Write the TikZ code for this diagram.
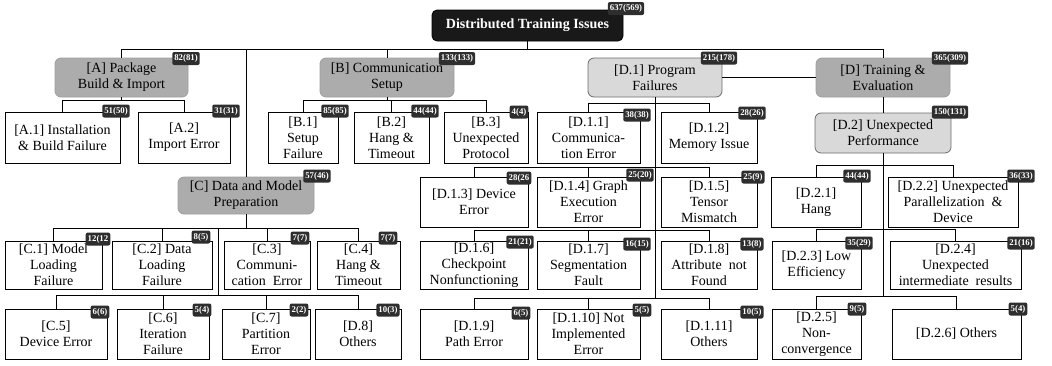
\documentclass[tikz,border=0pt]{standalone}
\usepackage{fontspec}
\setmainfont{Liberation Serif}
\begin{document}
\begin{tikzpicture}[x=1pt,y=-1pt,
  leaf/.style={draw=black, line width=0.8pt, fill=white, align=center, inner sep=0pt, font=\fontsize{14}{16}\selectfont},
  cat/.style={leaf, draw=gray!75, fill=gray!65, rounded corners=6pt},
  subcat/.style={leaf, draw=gray!85!black, fill=gray!30, rounded corners=6pt},
  rootbox/.style={leaf, fill=black!90, draw=black, text=white, rounded corners=5pt, font=\bfseries\fontsize{14}{16}\selectfont},
  badge/.style={fill=black!82, text=white, rounded corners=2pt, inner xsep=2pt, inner ysep=0pt, minimum height=13pt, font=\bfseries\fontsize{8.8}{9}\selectfont},
  link/.style={line width=0.8pt, draw=black}]
\newcommand\bx[7]{\node[#6, minimum width={(#4-#2)*1pt}, minimum height={(#5-#3)*1pt}] (#1) at ({(#2+#4)/2},{(#3+#5)/2}) {#7};}
\useasboundingbox (0,0) rectangle (1052,365);
% boxes
\bx{root}{432}{10}{623}{41}{rootbox}{Distributed Training Issues}
\bx{A}{55}{58}{188}{97}{cat}{[A] Package\\Build \& Import}
\bx{B}{320}{58}{454}{97}{cat}{[B] Communication\\Setup}
\bx{D1}{588}{58}{722}{97}{subcat}{[D.1] Program\\Failures}
\bx{D}{816}{58}{950}{97}{cat}{[D] Training \&\\Evaluation}
\bx{A1}{5}{112}{120}{163}{leaf}{[A.1] Installation\\\& Build Failure}
\bx{A2}{138}{112}{230}{163}{leaf}{[A.2]\\Import Error}
\bx{B1}{268}{112}{338}{163}{leaf}{[B.1]\\Setup\\Failure}
\bx{B2}{354}{112}{429}{163}{leaf}{[B.2]\\Hang \&\\Timeout}
\bx{B3}{444}{112}{528}{163}{leaf}{[B.3]\\Unexpected\\Protocol}
\bx{D11}{537}{112}{640}{163}{leaf}{[D.1.1]\\Communica-\\tion Error}
\bx{D12}{661}{112}{757}{163}{leaf}{[D.1.2]\\Memory Issue}
\bx{D2}{815}{113}{951}{153}{subcat}{[D.2] Unexpected\\Performance}
\bx{C}{178}{177}{314}{214}{cat}{[C] Data and Model\\Preparation}
\bx{D13}{420}{177}{528}{227}{leaf}{[D.1.3] Device\\Error}
\bx{D14}{537}{177}{640}{227}{leaf}{[D.1.4] Graph\\Execution\\Error}
\bx{D15}{661}{177}{757}{227}{leaf}{[D.1.5]\\Tensor\\Mismatch}
\bx{D21}{771}{177}{861}{227}{leaf}{[D.2.1]\\Hang}
\bx{D22}{888}{177}{1018}{227}{leaf}{[D.2.2] Unexpected\\Parallelization \ \&\\Device}
\bx{C1}{5}{241}{102}{289}{leaf}{[C.1] Model\\Loading\\Failure}
\bx{C2}{112}{241}{212}{289}{leaf}{[C.2] Data\\Loading\\Failure}
\bx{C3}{224}{241}{310}{289}{leaf}{[C.3]\\Communi-\\cation \ Error}
\bx{C4}{317}{241}{400}{289}{leaf}{[C.4]\\Hang \&\\Timeout}
\bx{D16}{420}{241}{528}{289}{leaf}{[D.1.6]\\Checkpoint\\Nonfunctioning}
\bx{D17}{537}{241}{640}{289}{leaf}{[D.1.7]\\Segmentation\\Fault}
\bx{D18}{661}{241}{757}{289}{leaf}{[D.1.8]\\Attribute \ not\\Found}
\bx{D23}{772}{241}{861}{289}{leaf}{[D.2.3] Low\\Efficiency}
\bx{D24}{890}{241}{1021}{289}{leaf}{[D.2.4]\\Unexpected\\intermediate \ results}
\bx{C5}{5}{309}{107}{359}{leaf}{[C.5]\\Device Error}
\bx{C6}{117}{309}{209}{359}{leaf}{[C.6]\\Iteration\\Failure}
\bx{C7}{222}{309}{310}{359}{leaf}{[C.7]\\Partition\\Error}
\bx{D8}{315}{309}{401}{359}{leaf}{[D.8]\\Others}
\bx{D19}{420}{309}{528}{359}{leaf}{[D.1.9]\\Path Error}
\bx{D110}{537}{309}{640}{359}{leaf}{[D.1.10] Not\\Implemented\\Error}
\bx{D111}{661}{309}{757}{359}{leaf}{[D.1.11]\\Others}
\bx{D25}{772}{309}{861}{359}{leaf}{[D.2.5]\\Non-\\convergence}
\bx{D26}{892}{309}{1021}{359}{leaf}{[D.2.6] Others}
% bus levels
\coordinate (yT) at (0,49);
\coordinate (yA) at (0,100);
\coordinate (yD1a) at (0,103);
\coordinate (yD1b) at (0,167);
\coordinate (yD1c) at (0,230);
\coordinate (yD1d) at (0,298);
\coordinate (yD2a) at (0,165);
\coordinate (yD2b) at (0,229);
\coordinate (yD2c) at (0,296);
\coordinate (yCa) at (0,228);
\coordinate (yCb) at (0,295);
\coordinate (cj) at (218,228);
% connectors
\draw[link] (root.south) -- (root.south |- yT);
\draw[link] (A.north) -- (A.north |- yT) -- (D.north |- yT) -- (D.north);
\draw[link] (B.north) -- (B.north |- yT);
\draw[link] (C.north) -- (C.north |- yT);
\draw[link] (D1.east) -- (D.west);
\draw[link] (A.south) -- (A.south |- yA);
\draw[link] (A1.north) -- (A1.north |- yA) -- (A2.north |- yA) -- (A2.north);
\draw[link] (B.south) -- (B.south |- yA);
\draw[link] (B1.north) -- (B1.north |- yA) -- (B3.north |- yA) -- (B3.north);
\draw[link] (B2.north) -- (B2.north |- yA);
\draw[link] (D1.south) -- (D1.south |- yD1d);
\draw[link] (D11.north) -- (D11.north |- yD1a) -- (D12.north |- yD1a) -- (D12.north);
\draw[link] (D13.north) -- (D13.north |- yD1b) -- (D15.north |- yD1b) -- (D15.north);
\draw[link] (D14.north) -- (D14.north |- yD1b);
\draw[link] (D16.north) -- (D16.north |- yD1c) -- (D18.north |- yD1c) -- (D18.north);
\draw[link] (D17.north) -- (D17.north |- yD1c);
\draw[link] (D19.north) -- (D19.north |- yD1d) -- (D111.north |- yD1d) -- (D111.north);
\draw[link] (D110.north) -- (D110.north |- yD1d);
\draw[link] (D.south) -- (D2.north);
\draw[link] (D2.south) -- (D2.south |- yD2c);
\draw[link] (D21.north) -- (D21.north |- yD2a) -- (D22.north |- yD2a) -- (D22.north);
\draw[link] (D23.north) -- (D23.north |- yD2b) -- (D24.north |- yD2b) -- (D24.north);
\draw[link] (D25.north) -- (D25.north |- yD2c) -- (D26.north |- yD2c) -- (D26.north);
\draw[link] (C.south) -- (C.south |- yCa);
\draw[link] (C1.north) -- (C1.north |- yCa) -- (C4.north |- yCa) -- (C4.north);
\draw[link] (C2.north) -- (C2.north |- yCa);
\draw[link] (C3.north) -- (C3.north |- yCa);
\draw[link] (cj) -- (cj |- yCb);
\draw[link] (C5.north) -- (C5.north |- yCb) -- (D8.north |- yCb) -- (D8.north);
\draw[link] (C6.north) -- (C6.north |- yCb);
\draw[link] (C7.north) -- (C7.north |- yCb);
% badges
\node[badge] (nroot) at (626,8.5) {637(569)};
\node[badge] (nA) at (186,58.5) {82(81)};
\node[badge] (nB) at (457,58.5) {133(133)};
\node[badge] (nD1) at (719,58) {215(178)};
\node[badge] (nD) at (950,58) {365(309)};
\node[badge] (nA1) at (116,111) {51(50)};
\node[badge] (nA2) at (226,111) {31(31)};
\node[badge] (nB1) at (335,111) {85(85)};
\node[badge] (nB2) at (425,111) {44(44)};
\node[badge] (nB3) at (519,112) {4(4)};
\node[badge] (nD11) at (637,115) {38(38)};
\node[badge] (nD12) at (752,113) {28(26)};
\node[badge] (nD2) at (950,112) {150(131)};
\node[badge] (nC) at (317,176) {57(46)};
\node[badge] (nD13) at (519,178) {28(26};
\node[badge] (nD14) at (640,175) {25(20)};
\node[badge] (nD15) at (753,177) {25(9)};
\node[badge] (nD21) at (857,176) {44(44)};
\node[badge] (nD22) at (1021,176) {36(33)};
\node[badge] (nC1) at (98,239) {12(12};
\node[badge] (nC2) at (201,237) {8(5)};
\node[badge] (nC3) at (300,238) {7(7)};
\node[badge] (nC4) at (388,238) {7(7)};
\node[badge] (nD16) at (520,242) {21(21)};
\node[badge] (nD17) at (637,244) {16(15)};
\node[badge] (nD18) at (752,244) {13(8)};
\node[badge] (nD23) at (859,243) {35(29)};
\node[badge] (nD24) at (1021,243) {21(16)};
\node[badge] (nC5) at (100,312) {6(6)};
\node[badge] (nC6) at (202,310) {5(4)};
\node[badge] (nC7) at (299,310) {2(2)};
\node[badge] (nD8) at (388,310) {10(3)};
\node[badge] (nD19) at (521,313) {6(5)};
\node[badge] (nD110) at (642,310) {5(5)};
\node[badge] (nD111) at (752,312) {10(5)};
\node[badge] (nD25) at (857,309) {9(5)};
\node[badge] (nD26) at (1018,309) {5(4)};
\end{tikzpicture}
\end{document}
